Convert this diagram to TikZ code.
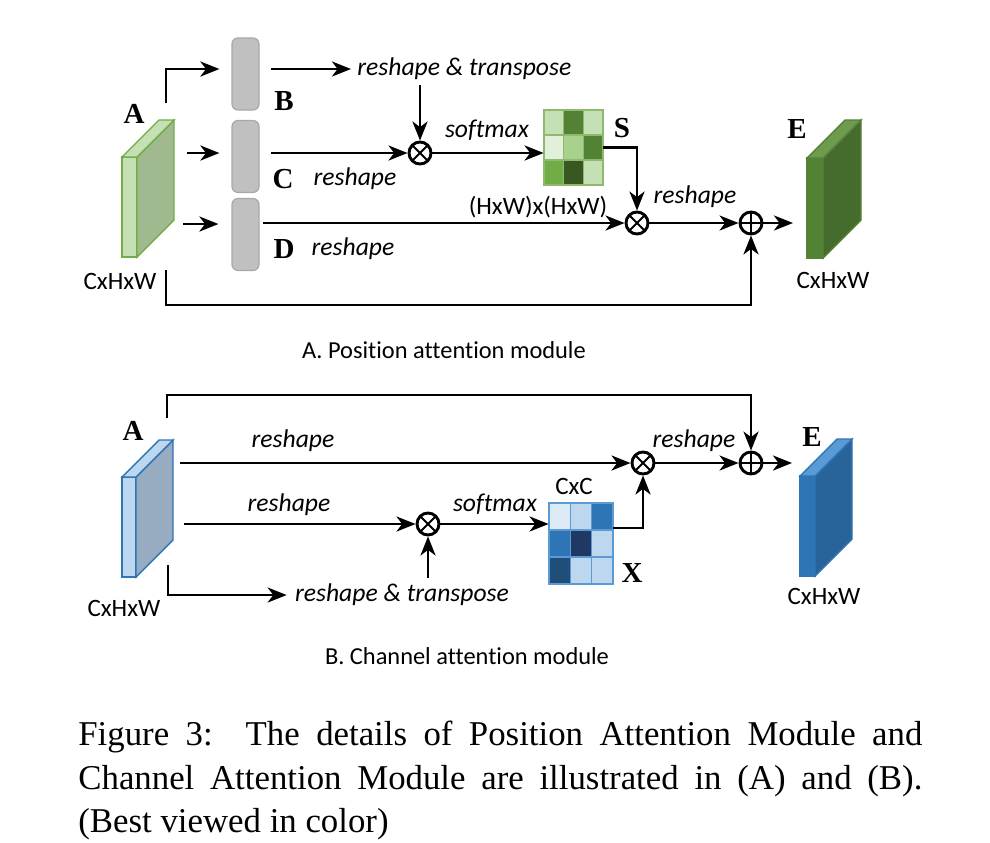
\documentclass[tikz,border=0pt]{standalone}
\usepackage{fontspec}
\setmainfont{Liberation Serif}
\newfontfamily\lblfont[Ligatures=CommonOff]{Carlito}
\usetikzlibrary{arrows.meta,positioning}

\definecolor{barFill}{HTML}{C0C0C0}
\definecolor{barEdge}{HTML}{A8A8A8}
% green (position attention)
\definecolor{gA}{HTML}{E2F0D9}
\definecolor{gB}{HTML}{C5E0B4}
\definecolor{gC}{HTML}{A9D18E}
\definecolor{gD}{HTML}{548235}
\definecolor{gE}{HTML}{70AD47}
\definecolor{gF}{HTML}{385723}
\definecolor{gSide}{HTML}{A0B98F}
\definecolor{gGrid}{HTML}{8DBA6E}
\definecolor{gDarkSide}{HTML}{466C2D}
\definecolor{gDarkTop}{HTML}{6E9B50}
% blue (channel attention)
\definecolor{bA}{HTML}{DEEBF7}
\definecolor{bB}{HTML}{BDD7EE}
\definecolor{bC}{HTML}{2E75B6}
\definecolor{bD}{HTML}{203864}
\definecolor{bE}{HTML}{1F4E79}
\definecolor{bSide}{HTML}{97ABC1}
\definecolor{bGrid}{HTML}{5B9BD5}
\definecolor{bDarkSide}{HTML}{28639A}
\definecolor{bDarkTop}{HTML}{5B9BD5}

% feature map: x, y (front bottom left), front width, depth, front, side, top, edge
\newcommand{\featcube}[8]{%
  \filldraw[fill=#5,draw=#8,line width=0.7pt] (#1,#2) rectangle ++(#3,-100);
  \filldraw[fill=#6,draw=#8,line width=0.7pt] (#1+#3,#2) -- ++(#4,-#4) -- ++(0,-100) -- ++(-#4,#4) -- cycle;
  \filldraw[fill=#7,draw=#8,line width=0.7pt] (#1,#2-100) -- ++(#3,0) -- ++(#4,-#4) -- ++(-#3,0) -- cycle;
}

\begin{document}
\begin{tikzpicture}[x=0.5pt,y=-0.5pt,
  arr/.style={line width=1.45pt,-{Stealth[length=9.5pt,width=7.5pt,inset=2.8pt]}},
  bar/.style={draw=barEdge,fill=barFill,rounded corners=3pt,line width=0.6pt,
    minimum width=13.5pt,minimum height=36pt,inner sep=0pt},
  op/.style={circle,draw,line width=1.45pt,minimum size=11pt,inner sep=0pt},
  otimes/.style={op,path picture={\draw[line width=0.9pt]
    (path picture bounding box.north west) -- (path picture bounding box.south east)
    (path picture bounding box.north east) -- (path picture bounding box.south west);}},
  oplus/.style={op,path picture={\draw[line width=0.9pt]
    (path picture bounding box.north) -- (path picture bounding box.south)
    (path picture bounding box.east) -- (path picture bounding box.west);}},
  txt/.style={font=\lblfont\fontsize{12.5}{15}\selectfont,inner sep=0pt},
  itx/.style={font=\lblfont\itshape\fontsize{12.8}{15}\selectfont,inner sep=0pt},
  letter/.style={font=\bfseries\fontsize{14.5}{16}\selectfont,inner sep=0pt},
  matbox/.style={inner sep=0pt}]
\useasboundingbox (0,0) rectangle (990,842);

% ---------------- A. position attention
\featcube{122}{257}{15}{37}{gB}{gSide}{gB}{gE}
\featcube{807}{258}{16}{38}{gD}{gDarkSide}{gDarkTop}{gD}
\node[letter] (lA1) at (134,114) {A};
\node[txt] (sA1) at (120,281) {CxHxW};
\node[letter] (lE1) at (797,129) {E};
\node[txt] (sE1) at (833,280) {CxHxW};

\node[bar] (B) at (245.5,74) {};
\node[bar] (C) at (245.5,156.5) {};
\node[bar] (D) at (245.5,234.5) {};
\node[letter] (lB) at (284,101) {B};
\node[letter] (lC) at (283,179) {C};
\node[letter] (lD) at (284,249) {D};

\node[itx,anchor=west] (rt1) at (357,69) {reshape \& transpose};
\node[itx] (rsC) at (355,179) {reshape};
\node[itx] (rsD) at (353,249) {reshape};
\node[otimes] (ot1) at (420,153) {};
\node[itx] (sm1) at (487,130) {softmax};

\node[matbox,minimum width=29.5pt,minimum height=37.5pt] (Smat) at (573.5,147.5) {};
\foreach \r/\row in {0/{gB,gD,gB},1/{gA,gC,gD},2/{gE,gF,gB}}
  \foreach \cl [count=\k from 0] in \row
    \filldraw[fill=\cl,draw=gGrid,line width=0.6pt] (544+\k*19.667,110+\r*25) rectangle ++(19.667,25);
\node[letter] (lS) at (622,128) {S};

\node[txt] (hw) at (538,207) {(HxW)x(HxW)};
\node[otimes] (ot2) at (637,223) {};
\node[itx] (rs2) at (695,197) {reshape};
\node[oplus] (op1) at (751,223) {};

\coordinate (a1) at (166,103);
\coordinate (a2) at (187,153);
\coordinate (a3) at (183,224);
\coordinate (a4) at (166,270);
\coordinate (e1) at (793,223);

\draw[arr,shorten >=6pt] (a1) |- ([yshift=2.5pt]B.west);
\draw[arr,shorten >=6pt] (a2) -- (a2 -| C.west);
\draw[arr,shorten >=6.5pt] (a3) -- (a3 -| D.west);
\draw[arr,shorten >=3pt] ([shift={(11,-5)}]B.east) -- (rt1.west);
\draw[arr] ([yshift=-2.5pt]rt1.south -| ot1) -- (ot1);
\draw[arr] ([xshift=5.5pt]C.east |- ot1) -- (ot1);
\draw[arr] (ot1) -- (ot1 -| Smat.west);
\draw[arr] (Smat.east) -| (ot2);
\draw[arr] ([xshift=1.5pt]D.east |- ot2) -- (ot2);
\draw[arr] (ot2) -- (op1);
\draw[arr] (op1) -- (e1);
\draw[arr] (a4) -- ++(0,35) -| (op1);

\node[txt,font=\lblfont\fontsize{12.2}{15}\selectfont] (capA) at (444,350) {A. Position attention module};

% ---------------- B. channel attention
\featcube{122}{577}{14}{37}{bB}{bSide}{bB}{bC}
\featcube{800}{576}{15}{37}{bC}{bDarkSide}{bDarkTop}{bC}
\node[letter] (lA2) at (133,431) {A};
\node[txt] (sA2) at (124,608) {CxHxW};
\node[letter] (lE2) at (812,437) {E};
\node[txt] (sE2) at (824,596) {CxHxW};

\node[otimes] (ot3) at (643,463) {};
\node[otimes] (ot4) at (428,524) {};
\node[oplus] (op2) at (751,463) {};
\node[itx] (rs3) at (293,441) {reshape};
\node[itx] (rs4) at (289,505) {reshape};
\node[itx] (rt2) at (402,595) {reshape \& transpose};
\node[itx] (sm2) at (495,504) {softmax};
\node[itx] (rs5) at (694,441) {reshape};

\node[matbox,minimum width=32pt,minimum height=40.5pt] (Xmat) at (581,543.5) {};
\foreach \r/\row in {0/{bA,bB,bC},1/{bC,bD,bB},2/{bE,bB,bB}}
  \foreach \cl [count=\k from 0] in \row
    \filldraw[fill=\cl,draw=bGrid,line width=0.6pt] (549+\k*21.333,503+\r*27) rectangle ++(21.333,27);
\node[txt] (cc) at (574,486) {CxC};
\node[letter] (lX) at (632,573) {X};

\coordinate (b1) at (167,418);
\coordinate (b2) at (180,463);
\coordinate (b3) at (184,524);
\coordinate (b4) at (168,565);
\coordinate (e2) at (792,463);

\draw[arr] (b1) -- ++(0,-23) -| (op2);
\draw[arr] (b2) -- (ot3);
\draw[arr] (b3) -- (ot4);
\draw[arr,shorten >=4pt] (b4) |- (rt2.west);
\draw[arr] ([yshift=3pt]rt2.north -| ot4) -- (ot4);
\draw[arr] (ot4) -- (ot4 -| Xmat.west);
\draw[arr] ([yshift=7.75pt]Xmat.east) -| (ot3);
\draw[arr] (ot3) -- (op2);
\draw[arr] (op2) -- (e2);

\node[txt,font=\lblfont\fontsize{12.2}{15}\selectfont] (capB) at (467,656) {B. Channel attention module};

% ---------------- caption
\node[anchor=north west,inner sep=0pt,text width=422pt,align=justify,
  font=\fontsize{17.4}{21.75}\selectfont] (cap) at (78,721)
  {Figure 3:\ \ The details of Position Attention Module and\linebreak
   Channel Attention Module are illustrated in (A) and (B).\linebreak
   (Best viewed in color)};
\end{tikzpicture}
\end{document}
